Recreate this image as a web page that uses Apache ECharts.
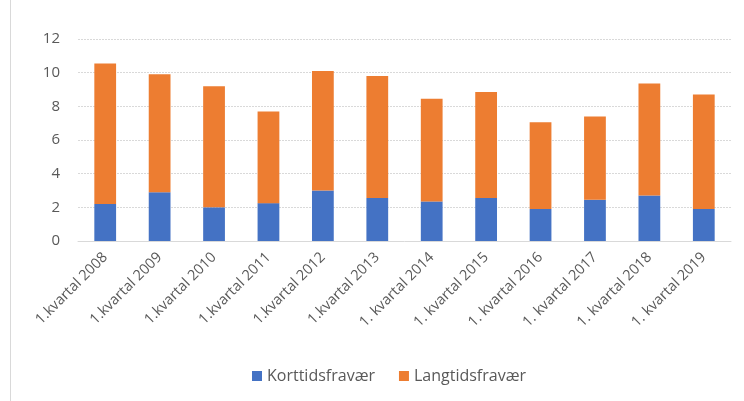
<!DOCTYPE html>
<html>
<head>
<meta charset="utf-8">
<script src="https://cdn.jsdelivr.net/npm/echarts@6/dist/echarts.min.js"></script>
<style>html,body{margin:0;padding:0;background:#fff}#c{width:744px;height:401px}</style>
</head>
<body>
<div id="c"></div>
<script>
const categories = ['1.kvartal 2008','1.kvartal 2009','1.kvartal 2010','1.kvartal 2011','1.kvartal 2012','1.kvartal 2013','1. kvartal 2014','1. kvartal 2015','1. kvartal 2016','1. kvartal 2017','1. kvartal 2018','1. kvartal 2019'];
const korttid = [2.2, 2.9, 2.0, 2.25, 3.0, 2.55, 2.35, 2.55, 1.9, 2.45, 2.7, 1.9];
const langtid = [8.35, 7.0, 7.2, 5.45, 7.1, 7.25, 6.1, 6.3, 5.15, 4.95, 6.65, 6.8];
const yTicks = [0, 2, 4, 6, 8, 10, 12];

const chart = echarts.init(document.getElementById('c'));
const font = 'Open Sans';
chart.setOption({
  animation: false,
  textStyle: {fontFamily: font},
  graphic: [{type: 'line', shape: {x1: 10.5, y1: 0, x2: 10.5, y2: 401}, style: {stroke: '#d9d9d9', lineWidth: 1}}],
  grid: {left: 78, right: 13, top: 39, bottom: 160},
  legend: {
    bottom: 12, left: 247, itemWidth: 10, itemHeight: 10, itemGap: 24,
    icon: 'rect',
    textStyle: {color: '#595959', fontSize: 16, fontFamily: font},
    data: ['Korttidsfravær', 'Langtidsfravær']
  },
  xAxis: {
    type: 'category', data: categories,
    axisLine: {lineStyle: {color: '#d9d9d9'}},
    axisTick: {show: false},
    axisLabel: {rotate: 45, color: '#595959', fontSize: 14.5, margin: 14, interval: 0}
  },
  yAxis: {
    type: 'value', min: yTicks[0], max: yTicks[yTicks.length - 1], interval: 2,
    axisLine: {show: false}, axisTick: {show: false},
    axisLabel: {color: '#595959', fontSize: 15, margin: 18},
    splitLine: {lineStyle: {color: '#d9d9d9', type: [2, 1], width: 1}}
  },
  series: [
    {name: 'Korttidsfravær', type: 'bar', stack: 't', data: korttid, barWidth: '40%', itemStyle: {color: '#4472C4'}},
    {name: 'Langtidsfravær', type: 'bar', stack: 't', data: langtid, barWidth: '40%', itemStyle: {color: '#ED7D31'}}
  ]
});
</script>
</body>
</html>
